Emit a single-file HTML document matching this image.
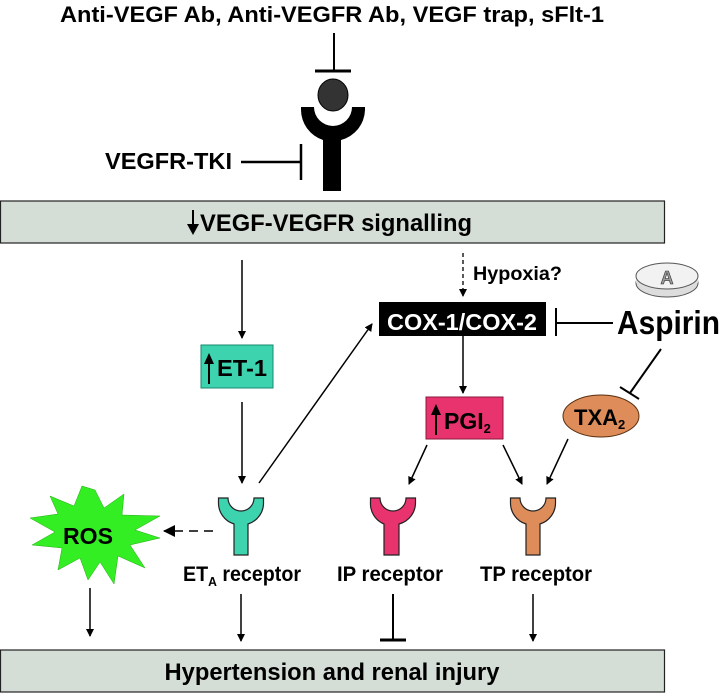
<!DOCTYPE html>
<html><head><meta charset="utf-8"><style>
html,body{margin:0;padding:0;background:#fff;}
svg{display:block;}
text{font-family:"Liberation Sans Narrow","Liberation Sans",sans-serif;font-weight:bold;}
</style></head><body>
<svg width="720" height="693" viewBox="0 0 720 693">
<defs>
<marker id="ah" markerWidth="8" markerHeight="8" refX="7" refY="4" orient="auto" markerUnits="userSpaceOnUse" viewBox="0 0 8 8"><path d="M0,0 L8,4 L0,8 Z" fill="#000"/></marker>
<marker id="ah2" markerWidth="12" markerHeight="12" refX="11" refY="6" orient="auto" markerUnits="userSpaceOnUse" viewBox="0 0 12 12"><path d="M0,0 L12,6 L0,12 Z" fill="#000"/></marker>
</defs>

<text x="332" y="22" text-anchor="middle" font-size="22" textLength="544" lengthAdjust="spacingAndGlyphs">Anti-VEGF Ab, Anti-VEGFR Ab, VEGF trap, sFlt-1</text>
<g><line x1="334" y1="33" x2="334" y2="71" stroke="#000" stroke-width="2"/><line x1="315" y1="71" x2="351" y2="71" stroke="#000" stroke-width="3"/></g>
<ellipse cx="333" cy="95" rx="15" ry="16" fill="#333" stroke="#000" stroke-width="1"/>
<path d="M301,107 L314,107 A18,18 0 0 0 352,107 L365,107 L365,110 A32,32 0 0 1 341,140 L341,191 L323,191 L323,140 A32,32 0 0 1 301,110 Z" fill="#000"/>
<text x="105" y="169" font-size="23" textLength="127" lengthAdjust="spacingAndGlyphs">VEGFR-TKI</text>
<g><line x1="241" y1="162" x2="301" y2="162" stroke="#000" stroke-width="2.5"/><line x1="301" y1="144" x2="301" y2="180" stroke="#000" stroke-width="2.5"/></g>

<rect x="0.5" y="201" width="664" height="42" fill="#d5ded6" stroke="#222" stroke-width="1.2"/>
<g><line x1="193" y1="210" x2="193" y2="226" stroke="#000" stroke-width="2"/><path d="M187,224 L199,224 L193,235 Z" fill="#000"/></g>
<text x="200" y="231" font-size="24" textLength="272" lengthAdjust="spacingAndGlyphs">VEGF-VEGFR signalling</text>

<line x1="242" y1="260" x2="242" y2="338" stroke="#000" stroke-width="1.5" marker-end="url(#ah)"/>
<line x1="463" y1="253" x2="463" y2="296" stroke="#000" stroke-width="1.3" stroke-dasharray="4,3" marker-end="url(#ah)"/>
<text x="473" y="280" font-size="19" textLength="89" lengthAdjust="spacingAndGlyphs">Hypoxia?</text>

<rect x="379" y="302" width="167" height="34" fill="#000"/>
<text x="462" y="330" text-anchor="middle" font-size="23" fill="#fff" textLength="150" lengthAdjust="spacingAndGlyphs">COX-1/COX-2</text>

<g>
<ellipse cx="667" cy="283" rx="31" ry="14" fill="#ddd" stroke="#555" stroke-width="1"/>
<rect x="636" y="276" width="62" height="7" fill="#ddd"/>
<ellipse cx="667" cy="276" rx="31" ry="13" fill="#f2f2f2" stroke="#555" stroke-width="1"/>
<text x="667" y="284" text-anchor="middle" font-size="18" fill="#999" stroke="#333" stroke-width="0.6">A</text>
</g>
<text x="617" y="334" font-size="33" textLength="103" lengthAdjust="spacingAndGlyphs">Aspirin</text>
<g><line x1="556" y1="323" x2="613" y2="323" stroke="#000" stroke-width="2"/><line x1="556" y1="308" x2="556" y2="336" stroke="#000" stroke-width="2"/></g>
<g><line x1="661" y1="349" x2="630" y2="393" stroke="#000" stroke-width="2"/><line x1="620" y1="387" x2="639" y2="399" stroke="#000" stroke-width="2"/></g>

<rect x="201" y="345" width="72" height="43" fill="#3dd3ae" stroke="#178a6e" stroke-width="1"/>
<g><line x1="209" y1="384" x2="209" y2="362" stroke="#000" stroke-width="2"/><path d="M204,364 L214,364 L209,353 Z" fill="#000"/></g>
<text x="217" y="376" font-size="23" textLength="50" lengthAdjust="spacingAndGlyphs">ET-1</text>

<line x1="242" y1="402" x2="242" y2="483" stroke="#000" stroke-width="1.5" marker-end="url(#ah)"/>
<line x1="259" y1="483" x2="372" y2="324" stroke="#000" stroke-width="1.5" marker-end="url(#ah)"/>
<line x1="463" y1="336" x2="463" y2="393" stroke="#000" stroke-width="1.5" marker-end="url(#ah)"/>

<rect x="426" y="397" width="77" height="42" fill="#e8336e" stroke="#8a1a3c" stroke-width="1"/>
<g><line x1="436" y1="435" x2="436" y2="413" stroke="#000" stroke-width="2"/><path d="M431,415 L441,415 L436,404 Z" fill="#000"/></g>
<text x="444" y="429" font-size="23">PGI<tspan font-size="13" dy="4">2</tspan></text>

<ellipse cx="601" cy="416" rx="38" ry="21" fill="#dd8c5a" stroke="#5a3010" stroke-width="1"/>
<text x="574" y="425" font-size="22">TXA<tspan font-size="13" dy="4">2</tspan></text>

<line x1="427" y1="445" x2="409" y2="484" stroke="#000" stroke-width="1.5" marker-end="url(#ah)"/>
<line x1="503" y1="445" x2="522" y2="484" stroke="#000" stroke-width="1.5" marker-end="url(#ah)"/>
<line x1="568" y1="439" x2="547" y2="484" stroke="#000" stroke-width="1.5" marker-end="url(#ah)"/>

<path d="M218.5,498 L228,498 A13,13 0 0 0 254,498 L263.5,498 L263.5,502 A22,22 0 0 1 248,524 L248,555 L234,555 L234,524 A22,22 0 0 1 218.5,502 Z" fill="#3dd3ae" stroke="#222" stroke-width="1.2"/>
<path d="M370.5,498 L380,498 A13,13 0 0 0 406,498 L415.5,498 L415.5,502 A22,22 0 0 1 399,524 L399,555 L384,555 L384,524 A22,22 0 0 1 370.5,502 Z" fill="#e8336e" stroke="#222" stroke-width="1.2"/>
<path d="M510.5,498 L520,498 A13,13 0 0 0 546,498 L555.5,498 L555.5,502 A22,22 0 0 1 540,524 L540,555 L526,555 L526,524 A22,22 0 0 1 510.5,502 Z" fill="#dd8c5a" stroke="#222" stroke-width="1.2"/>

<text x="183" y="581" font-size="21" textLength="118" lengthAdjust="spacingAndGlyphs">ET<tspan font-size="13" dy="5">A</tspan><tspan dy="-5"> receptor</tspan></text>
<text x="337" y="581" font-size="21" textLength="106" lengthAdjust="spacingAndGlyphs">IP receptor</text>
<text x="480" y="581" font-size="21" textLength="112" lengthAdjust="spacingAndGlyphs">TP receptor</text>

<polygon fill="#33ee22" stroke="#22aa11" stroke-width="0.5" points="95,490 104,508 124,494 122,515 160,516 135,530 160,538 130,545 145,568 118,556 114,584 100,562 88,580 80,558 58,570 62,548 32,545 55,532 30,518 58,514 50,496 74,506 82,486"/>
<text x="88" y="544" text-anchor="middle" font-size="23" textLength="50" lengthAdjust="spacingAndGlyphs">ROS</text>
<line x1="213" y1="531" x2="164" y2="531" stroke="#000" stroke-width="1.5" stroke-dasharray="9,6" marker-end="url(#ah2)"/>

<line x1="90" y1="588" x2="90" y2="636" stroke="#000" stroke-width="1.5" marker-end="url(#ah)"/>
<line x1="241" y1="594" x2="241" y2="641" stroke="#000" stroke-width="1.5" marker-end="url(#ah)"/>
<g><line x1="393" y1="594" x2="393" y2="640" stroke="#000" stroke-width="2"/><line x1="380" y1="640" x2="406" y2="640" stroke="#000" stroke-width="3"/></g>
<line x1="533" y1="594" x2="533" y2="641" stroke="#000" stroke-width="1.5" marker-end="url(#ah)"/>

<rect x="0.5" y="650" width="664" height="42" fill="#d5ded6" stroke="#222" stroke-width="1.2"/>
<text x="332" y="680" text-anchor="middle" font-size="24" textLength="335" lengthAdjust="spacingAndGlyphs">Hypertension and renal injury</text>
</svg>
</body></html>
